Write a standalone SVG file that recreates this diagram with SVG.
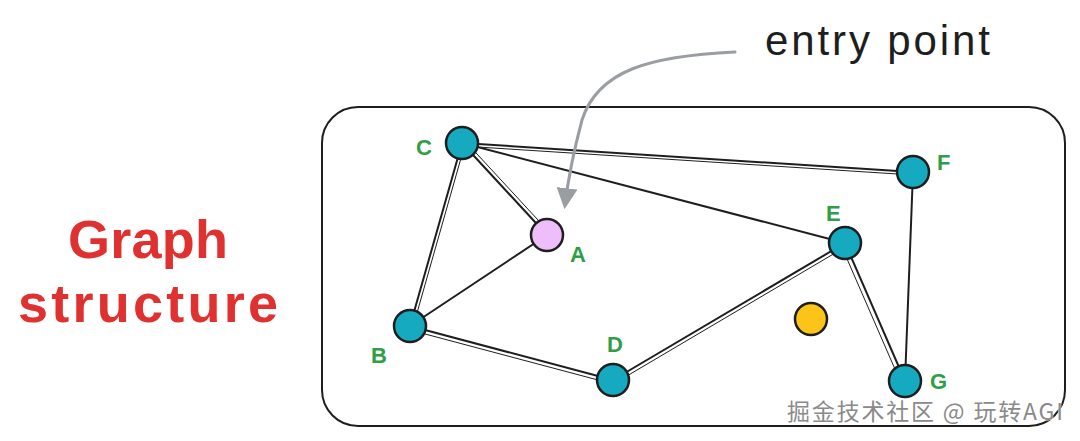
<svg xmlns="http://www.w3.org/2000/svg" width="1080" height="441" viewBox="0 0 1080 441">
<defs>
<style>
.edge{stroke:#1e1e1e;stroke-width:2;fill:none;stroke-linecap:round}
.edge2{stroke:#1e1e1e;stroke-width:1;fill:none}
.node{fill:#15aabf;stroke:#1e1e1e;stroke-width:2.5}
.lbl{font-family:"Liberation Sans",sans-serif;fill:#2f9e44;font-size:22px;font-weight:bold}
.title{font-family:"Liberation Sans",sans-serif;fill:#e03131;font-size:54px;font-weight:bold}
</style>
<marker id="ah" viewBox="0 0 10 10" refX="8" refY="5" markerWidth="7" markerHeight="7" orient="auto" markerUnits="strokeWidth">
<path d="M0 0 L10 5 L0 10 Z" fill="#9a9ea3"/>
</marker>
</defs>
<rect width="1080" height="441" fill="#ffffff"/>
<rect id="frame" x="322" y="107" width="743" height="319" rx="36" ry="36" fill="none" stroke="#1e1e1e" stroke-width="2"/>
<g id="connectors">
<line class="edge" x1="462" y1="143" x2="913" y2="172"/>
<line class="edge2" x1="462" y1="146" x2="913" y2="175"/>
<line class="edge" x1="462" y1="143" x2="845" y2="243" stroke-width="2.5"/>
<line class="edge" x1="462" y1="143" x2="547" y2="235"/>
<line class="edge2" x1="465" y1="141" x2="550" y2="233"/>
<line class="edge" x1="462" y1="143" x2="410" y2="326"/>
<line class="edge2" x1="465" y1="144" x2="413" y2="327"/>
<line class="edge" x1="547" y1="235" x2="410" y2="326"/>
<line class="edge" x1="410" y1="326" x2="613" y2="380"/>
<line class="edge2" x1="410" y1="330" x2="613" y2="384"/>
<line class="edge" x1="613" y1="380" x2="845" y2="243"/>
<line class="edge2" x1="615" y1="383" x2="847" y2="246"/>
<line class="edge" x1="845" y1="243" x2="905" y2="381"/>
<line class="edge2" x1="841" y1="245" x2="901" y2="383"/>
<line class="edge" x1="913" y1="172" x2="905" y2="381"/>
<path d="M735 52 C 650 56, 598 70, 582 120 C 574 150, 568 180, 565 205" stroke="#9a9ea3" stroke-width="3" fill="none" stroke-linecap="round" marker-end="url(#ah)"/>
</g>
<g id="node-C"><circle class="node" cx="462" cy="143" r="16"/><text class="lbl" x="416" y="155">C</text></g>
<g id="node-A"><circle cx="547" cy="235" r="16" fill="#eebefa" stroke="#1e1e1e" stroke-width="2.5"/><text class="lbl" x="570" y="262">A</text></g>
<g id="node-B"><circle class="node" cx="410" cy="326" r="16"/><text class="lbl" x="371" y="363">B</text></g>
<g id="node-D"><circle class="node" cx="613" cy="380" r="16"/><text class="lbl" x="607" y="352">D</text></g>
<g id="node-E"><circle class="node" cx="845" cy="243" r="16"/><text class="lbl" x="826" y="221">E</text></g>
<g id="node-F"><circle class="node" cx="913" cy="172" r="16"/><text class="lbl" x="937" y="170">F</text></g>
<g id="node-G"><circle class="node" cx="905" cy="381" r="16"/><text class="lbl" x="930" y="389">G</text></g>
<g id="node-Y"><circle cx="811" cy="319" r="16" fill="#fcc419" stroke="#1e1e1e" stroke-width="2.5"/></g>
<g id="label-entry"><text x="765" y="55" font-family="'Liberation Sans',sans-serif" font-size="42" fill="#1e1e1e" textLength="225">entry point</text></g>
<g id="label-graph">
<text class="title" x="68" y="258" textLength="160">Graph</text>
<text class="title" x="18" y="322" textLength="260">structure</text>
</g>
<text x="787" y="420" font-family="'Noto Sans CJK SC','Liberation Sans',sans-serif" font-size="23" fill="#8a8a8a" stroke="#ffffff" stroke-width="0.8" paint-order="stroke" textLength="276">掘金技术社区 @ 玩转AGI</text>
</svg>
